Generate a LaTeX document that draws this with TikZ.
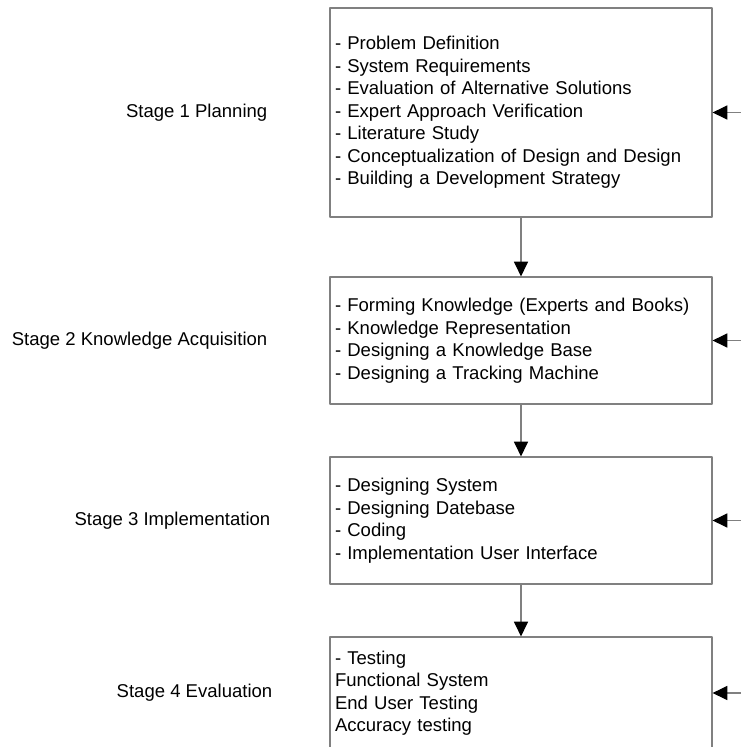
\documentclass[tikz,border=0pt]{standalone}
\usepackage{fontspec}
\setmainfont{Liberation Sans}
\usetikzlibrary{arrows.meta}
\begin{document}
\begin{tikzpicture}[x=0.75pt, y=-0.75pt, font=\fontsize{13.9}{16.9}\selectfont, line join=round,
  >={Triangle[length=11pt,width=10.5pt,color=black]},
  stagebox/.style={draw=gray, line width=0.9pt, minimum width=286.5pt, text width=279pt, align=left, inner xsep=3.75pt},
  link/.style={->, draw=gray, line width=0.9pt}]
\useasboundingbox (0,0) rectangle (740,747);
% stage boxes
\node[stagebox, minimum height=156.75pt] (s1) at (521,112.5) {- Problem Definition\\- System Requirements\\- Evaluation of Alternative Solutions\\- Expert Approach Verification\\- Literature Study\\- Conceptualization of Design and Design\\- Building a Development Strategy};
\node[stagebox, minimum height=95.25pt] (s2) at (521,340.5) {- Forming Knowledge (Experts and Books)\\- Knowledge Representation\\- Designing a Knowledge Base\\- Designing a Tracking Machine};
\node[stagebox, minimum height=95.25pt] (s3) at (521,520.5) {- Designing System\\- Designing Datebase\\- Coding\\- Implementation User Interface};
\node[stagebox, minimum height=84pt] (s4) at (521,693) {- Testing\\Functional System\\End User Testing\\Accuracy testing};
% stage names
\foreach\i/\x/\txt in {1/272/Stage 1 Planning,2/272/Stage 2 Knowledge Acquisition,3/275/Stage 3 Implementation,4/277/Stage 4 Evaluation}
\node[anchor=east] (l\i) at (\x,0 |- s\i) {\txt};
% arrows
\foreach\i/\j in {1/2,2/3,3/4} \draw[link] (s\i) -- (s\j);
\foreach\i in {1,...,4} {
\coordinate (r\i) at ([xshift=21pt]s\i.east);
\draw[link] (r\i) -- (s\i.east);
}
\end{tikzpicture}
\end{document}
